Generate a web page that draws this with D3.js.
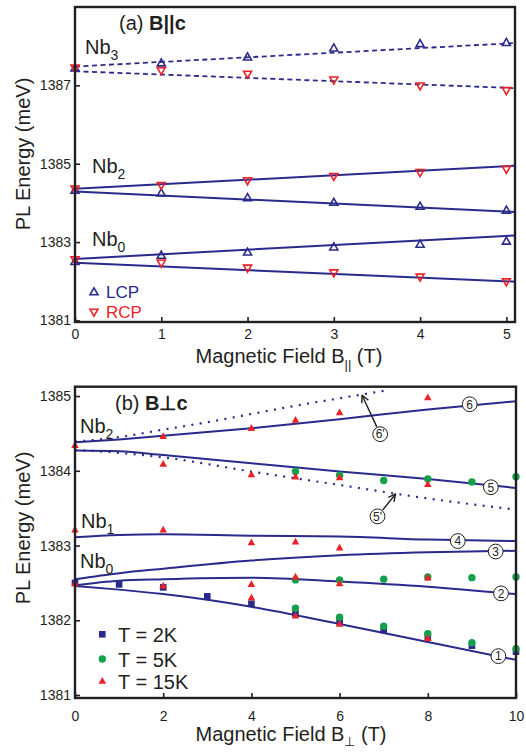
<!DOCTYPE html>
<html>
<head>
<meta charset="utf-8">
<script src="https://cdn.jsdelivr.net/npm/d3@7"></script>
<style>
  body { margin: 0; background: #fff; }
  svg { display: block; font-family: "Liberation Sans", Arial, Helvetica, sans-serif; }
</style>
</head>
<body>
<div id="chart"></div>
<script>
// ---------- panel (a): B || c ----------
const fieldA = [0, 1, 2, 3, 4, 5]
const nb3Lcp = [1387.44, 1387.57, 1387.72, 1387.95, 1388.06, 1388.09]
const nb3Rcp = [1387.45, 1387.38, 1387.29, 1387.14, 1386.99, 1386.87]
const nb2Lcp = [1384.32, 1384.25, 1384.13, 1384.01, 1383.91, 1383.81]
const nb2Rcp = [1384.36, 1384.45, 1384.57, 1384.68, 1384.78, 1384.86]
const nb0Lcp = [1382.50, 1382.66, 1382.74, 1382.87, 1382.94, 1383.02]
const nb0Rcp = [1382.55, 1382.47, 1382.34, 1382.22, 1382.11, 1381.99]

// linear fits, read at both ends of the field axis
const fitFieldA = [0, 5.1]
const nb3LcpFit = [1387.48, 1388.08]
const nb3RcpFit = [1387.36, 1386.93]
const nb2LcpFit = [1384.29, 1383.77]
const nb2RcpFit = [1384.36, 1384.95]
const nb0LcpFit = [1382.57, 1383.17]
const nb0RcpFit = [1382.47, 1381.99]

const xTicksA = [0, 1, 2, 3, 4, 5]
const yTicksA = [1381, 1383, 1385, 1387]

// ---------- panel (b): B perp c ----------
const fieldB = [0, 1, 2, 3, 4, 5, 6, 7, 8, 9, 10]
const t2K = [1382.50, 1382.48, 1382.44, 1382.32, 1382.22, 1382.09, 1381.98, 1381.87, 1381.77, 1381.66, 1381.58]

const field5K = [5, 6, 7, 8, 9, 10]
const t5KHigh = [1383.99, 1383.94, 1383.87, 1383.89, 1383.85, 1383.92]
const t5KMid = [1382.54, 1382.54, 1382.55, 1382.58, 1382.57, 1382.58]
const t5KLow = [1382.16, 1382.04, 1381.92, 1381.82, 1381.70, 1381.62]

const field15KNb2Up = [0, 2, 4, 5, 6, 8]
const t15KNb2Up = [1384.34, 1384.46, 1384.57, 1384.68, 1384.78, 1384.98]
const field15KNb2Down = [2, 4, 5, 6, 8]
const t15KNb2Down = [1384.09, 1383.95, 1383.92, 1383.91, 1383.82]
const field15KNb1 = [0, 2, 4, 5, 6]
const t15KNb1 = [1383.21, 1383.21, 1383.04, 1383.05, 1382.97]
const field15KNb0Up = [0, 2, 4, 5, 6, 8]
const t15KNb0Up = [1382.49, 1382.46, 1382.48, 1382.58, 1382.49, 1382.57]
const field15KNb0Down = [4, 5, 6, 8]
const t15KNb0Down = [1382.30, 1382.06, 1381.95, 1381.76]

// model branches (solid 1..6, dotted 5' and 6')
const modelField = [0, 1, 2, 4, 6, 8, 10]
const branch1 = [1382.46, 1382.41, 1382.35, 1382.18, 1381.95, 1381.71, 1381.47]
const branch2 = [1382.47, 1382.53, 1382.55, 1382.57, 1382.52, 1382.45, 1382.35]
const branch3 = [1382.55, 1382.63, 1382.69, 1382.80, 1382.87, 1382.91, 1382.93]
const branch4 = [1383.11, 1383.14, 1383.15, 1383.13, 1383.12, 1383.08, 1383.06]
const branch5 = [1384.27, 1384.26, 1384.21, 1384.10, 1383.99, 1383.89, 1383.77]
const branch6 = [1384.38, 1384.42, 1384.47, 1384.57, 1384.69, 1384.82, 1384.93]
const branch5p = [1384.28, 1384.24, 1384.18, 1383.99, 1383.81, 1383.63, 1383.48]
const branch6pField = [0, 1, 2, 3, 4, 5, 6, 7]
const branch6p = [1384.39, 1384.45, 1384.55, 1384.65, 1384.76, 1384.87, 1384.97, 1385.07]

// circled branch tags, placed in data coordinates
const tagText = ['1', '2', '3', '4', '5', '6']
const tagField = [9.6, 9.66, 9.54, 8.68, 9.43, 8.95]
const tagEnergy = [1381.52, 1382.36, 1382.92, 1383.06, 1383.78, 1384.89]
// primed tags with arrows pointing to the dotted branches
const primeText = ["6'", "5'"]
const primeField = [6.92, 6.86]
const primeEnergy = [1384.49, 1383.39]
const primeTipField = [6.51, 7.27]
const primeTipEnergy = [1385.01, 1383.69]

const xTicksB = [0, 2, 4, 6, 8, 10]
const yTicksB = [1381, 1382, 1383, 1384, 1385]

// ---------- colours ----------
const navy = '#2a2a8c'
const red = '#ec2227'
const green = '#14a04c'
const ink = '#231f20'
const fontFamily = '"Liberation Sans", Arial, Helvetica, sans-serif'

const svg = d3.select('#chart').append('svg')
  .attr('width', 526)
  .attr('height', 752)

const defs = svg.append('defs')
defs.append('marker')
  .attr('id', 'arrow')
  .attr('viewBox', '0 0 10 10')
  .attr('refX', 9).attr('refY', 5)
  .attr('markerWidth', 9).attr('markerHeight', 9)
  .attr('markerUnits', 'userSpaceOnUse')
  .attr('orient', 'auto')
  .append('path')
  .attr('d', 'M1,1 L9,5 L1,9')
  .attr('fill', 'none')
  .attr('stroke', ink)
  .attr('stroke-width', 1.6)

function triPath (up, w, h) {
  if (up) return `M0,${-h * 0.6} L${w / 2},${h * 0.4} L${-w / 2},${h * 0.4} Z`
  return `M0,${h * 0.6} L${w / 2},${-h * 0.4} L${-w / 2},${-h * 0.4} Z`
}

function pairs (xs, ys) {
  return xs.map((x, i) => ({ x: x, y: ys[i] }))
}

function drawAxes (g, x, y, xTicks, yTicks, xPad) {
  const [x0, x1] = x.range()
  const [y0, y1] = y.range()
  const fmt = d3.format('d')

  g.append('g')
    .attr('transform', `translate(0,${y0})`)
    .call(d3.axisBottom(x).tickValues(xTicks).tickFormat(fmt)
      .tickSizeInner(-5).tickSizeOuter(0).tickPadding(xPad))
    .call(a => a.select('.domain').remove())
  g.append('g')
    .attr('transform', `translate(${x0},0)`)
    .call(d3.axisLeft(y).tickValues(yTicks).tickFormat(fmt)
      .tickSizeInner(-5).tickSizeOuter(0).tickPadding(4))
    .call(a => a.select('.domain').remove())

  g.selectAll('.tick line').attr('stroke', ink).attr('stroke-width', 1.6)
  g.selectAll('.tick text')
    .attr('fill', ink)
    .attr('font-size', 14)
    .attr('font-family', fontFamily)

  g.append('rect')
    .attr('x', x0).attr('y', y1)
    .attr('width', x1 - x0).attr('height', y0 - y1)
    .attr('fill', 'none')
    .attr('stroke', ink)
    .attr('stroke-width', 2.4)
}

function addSubLabel (g, px, py, main, sub, size) {
  const t = g.append('text')
    .attr('x', px).attr('y', py)
    .attr('fill', ink)
    .style('font-size', `${size}px`)
  t.append('tspan').text(main)
  t.append('tspan').text(sub)
    .style('font-size', `${Math.round(size * 0.72)}px`)
    .attr('dy', size * 0.28)
  return t
}

// ================= panel (a) =================
function makePanelA () {
  const x = d3.scaleLinear().domain([0, 5.1]).range([75, 515])
  const y = d3.scaleLinear().domain([1380.96, 1389]).range([322, 7])
  const g = svg.append('g').attr('class', 'panel-a')

  const line = d3.line().x(d => x(d.x)).y(d => y(d.y))

  const fits = [
    { v: nb3LcpFit, dash: '5,3.5' },
    { v: nb3RcpFit, dash: '5,3.5' },
    { v: nb2LcpFit, dash: null },
    { v: nb2RcpFit, dash: null },
    { v: nb0LcpFit, dash: null },
    { v: nb0RcpFit, dash: null }
  ]
  fits.forEach(f => {
    g.append('path')
      .attr('d', line(pairs(fitFieldA, f.v)))
      .attr('fill', 'none')
      .attr('stroke', navy)
      .attr('stroke-width', f.dash ? 1.8 : 2)
      .attr('stroke-dasharray', f.dash)
  })

  const series = [
    { v: nb3Lcp, up: true }, { v: nb2Lcp, up: true }, { v: nb0Lcp, up: true },
    { v: nb3Rcp, up: false }, { v: nb2Rcp, up: false }, { v: nb0Rcp, up: false }
  ]
  series.forEach(s => {
    g.selectAll(null)
      .data(pairs(fieldA, s.v))
      .enter().append('path')
      .attr('transform', d => `translate(${x(d.x)},${y(d.y)})`)
      .attr('d', triPath(s.up, 8, 7))
      .attr('fill', 'none')
      .attr('stroke', s.up ? navy : red)
      .attr('stroke-width', 1.6)
  })

  drawAxes(g, x, y, xTicksA, yTicksA, 7)

  // panel title
  const title = g.append('text').attr('x', 119).attr('y', 30).attr('fill', ink).style('font-size', '20px')
  title.append('tspan').text('(a) ')
  title.append('tspan').text('B||c').style('font-weight', 'bold')

  addSubLabel(g, 85, 54, 'Nb', '3', 20)
  addSubLabel(g, 92, 173, 'Nb', '2', 20)
  addSubLabel(g, 92, 246, 'Nb', '0', 20)

  // legend
  g.append('path').attr('transform', 'translate(94,292)').attr('d', triPath(true, 8, 7))
    .attr('fill', 'none').attr('stroke', navy).attr('stroke-width', 1.6)
  g.append('text').attr('x', 106).attr('y', 298).attr('fill', navy).style('font-size', '17px').text('LCP')
  g.append('path').attr('transform', 'translate(94,312)').attr('d', triPath(false, 8, 7))
    .attr('fill', 'none').attr('stroke', red).attr('stroke-width', 1.6)
  g.append('text').attr('x', 106).attr('y', 318).attr('fill', red).style('font-size', '17px').text('RCP')

  // axis titles
  const xt = g.append('text').attr('x', 289).attr('y', 363).attr('text-anchor', 'middle')
    .attr('fill', ink).style('font-size', '20px')
  xt.append('tspan').text('Magnetic Field B')
  xt.append('tspan').text('||').style('font-size', '13px').attr('dy', 6)
  xt.append('tspan').text(' (T)').attr('dy', -6)

  g.append('text')
    .attr('transform', 'translate(30,154) rotate(-90)')
    .attr('text-anchor', 'middle')
    .attr('fill', ink).style('font-size', '20px')
    .text('PL Energy (meV)')
}

// ================= panel (b) =================
function makePanelB () {
  const x = d3.scaleLinear().domain([0, 10]).range([75, 516])
  const y = d3.scaleLinear().domain([1380.96, 1385.125]).range([698, 386.7])
  const g = svg.append('g').attr('class', 'panel-b')

  defs.append('clipPath').attr('id', 'clip-b')
    .append('rect').attr('x', 75).attr('y', 386.7).attr('width', 441).attr('height', 311.3)

  const curve = d3.line().curve(d3.curveMonotoneX).x(d => x(d.x)).y(d => y(d.y))
  const lines = g.append('g').attr('clip-path', 'url(#clip-b)')

  const branches = [
    { xs: modelField, v: branch1, dotted: false },
    { xs: modelField, v: branch2, dotted: false },
    { xs: modelField, v: branch3, dotted: false },
    { xs: modelField, v: branch4, dotted: false },
    { xs: modelField, v: branch5, dotted: false },
    { xs: modelField, v: branch6, dotted: false },
    { xs: modelField, v: branch5p, dotted: true },
    { xs: branch6pField, v: branch6p, dotted: true }
  ]
  branches.forEach(b => {
    lines.append('path')
      .attr('d', curve(pairs(b.xs, b.v)))
      .attr('fill', 'none')
      .attr('stroke', navy)
      .attr('stroke-width', b.dotted ? 2.2 : 2)
      .attr('stroke-dasharray', b.dotted ? '2,6.4' : null)
  })

  // data points: 2K squares, 5K circles, 15K triangles
  g.selectAll('.sq')
    .data(pairs(fieldB, t2K))
    .enter().append('rect')
    .attr('x', d => x(d.x) - 3.3).attr('y', d => y(d.y) - 3.3)
    .attr('width', 6.6).attr('height', 6.6)
    .attr('fill', navy)

  const fives = [t5KHigh, t5KMid, t5KLow]
  fives.forEach(v => {
    g.selectAll(null)
      .data(pairs(field5K, v))
      .enter().append('circle')
      .attr('cx', d => x(d.x)).attr('cy', d => y(d.y))
      .attr('r', 3.7)
      .attr('fill', green)
  })

  const fifteens = [
    [field15KNb2Up, t15KNb2Up], [field15KNb2Down, t15KNb2Down], [field15KNb1, t15KNb1],
    [field15KNb0Up, t15KNb0Up], [field15KNb0Down, t15KNb0Down]
  ]
  fifteens.forEach(([xs, v]) => {
    g.selectAll(null)
      .data(pairs(xs, v))
      .enter().append('path')
      .attr('transform', d => `translate(${x(d.x)},${y(d.y)})`)
      .attr('d', triPath(true, 7.6, 6.8))
      .attr('fill', red)
  })

  // arrows for primed tags
  primeText.forEach((t, i) => {
    const cx = x(primeField[i]), cy = y(primeEnergy[i])
    const tx = x(primeTipField[i]), ty = y(primeTipEnergy[i])
    const len = Math.hypot(tx - cx, ty - cy)
    const sx = cx + (tx - cx) / len * 8, sy = cy + (ty - cy) / len * 8
    g.append('line')
      .attr('x1', sx).attr('y1', sy).attr('x2', tx).attr('y2', ty)
      .attr('stroke', ink).attr('stroke-width', 1.4)
      .attr('marker-end', 'url(#arrow)')
  })

  // circled tags
  const tags = tagText.map((t, i) => ({ t: t, x: tagField[i], y: tagEnergy[i] }))
    .concat(primeText.map((t, i) => ({ t: t, x: primeField[i], y: primeEnergy[i] })))
  const tg = g.selectAll('.tag').data(tags).enter().append('g')
    .attr('transform', d => `translate(${x(d.x)},${y(d.y)})`)
  tg.append('circle').attr('r', 7.4).attr('fill', '#fff').attr('stroke', ink).attr('stroke-width', 1)
  tg.append('text')
    .attr('text-anchor', 'middle').attr('dy', '0.36em')
    .attr('fill', ink).style('font-size', '12px')
    .text(d => d.t)

  drawAxes(g, x, y, xTicksB, yTicksB, 13)

  const title = g.append('text').attr('x', 115).attr('y', 410).attr('fill', ink).style('font-size', '20px')
  title.append('tspan').text('(b) ')
  title.append('tspan').text('B\u22A5c').style('font-weight', 'bold')

  addSubLabel(g, 80, 433, 'Nb', '2', 20)
  addSubLabel(g, 81, 528, 'Nb', '1', 20)
  addSubLabel(g, 80, 568, 'Nb', '0', 20)

  // legend
  g.append('rect').attr('x', 99).attr('y', 631).attr('width', 6.6).attr('height', 6.6).attr('fill', navy)
  g.append('text').attr('x', 118).attr('y', 642).attr('fill', ink).style('font-size', '20px').text('T = 2K')
  g.append('circle').attr('cx', 102.3).attr('cy', 659).attr('r', 3.7).attr('fill', green)
  g.append('text').attr('x', 118).attr('y', 667).attr('fill', ink).style('font-size', '20px').text('T = 5K')
  g.append('path').attr('transform', 'translate(102.3,681)').attr('d', triPath(true, 7.6, 6.8)).attr('fill', red)
  g.append('text').attr('x', 118).attr('y', 689).attr('fill', ink).style('font-size', '20px').text('T = 15K')

  const xt = g.append('text').attr('x', 291).attr('y', 741).attr('text-anchor', 'middle')
    .attr('fill', ink).style('font-size', '20px')
  xt.append('tspan').text('Magnetic Field B')
  xt.append('tspan').text('\u22A5').style('font-size', '13px').attr('dy', 5)
  xt.append('tspan').text(' (T)').attr('dy', -5)

  g.append('text')
    .attr('transform', 'translate(30,528) rotate(-90)')
    .attr('text-anchor', 'middle')
    .attr('fill', ink).style('font-size', '20px')
    .text('PL Energy (meV)')
}

makePanelA()
makePanelB()
</script>
</body>
</html>
